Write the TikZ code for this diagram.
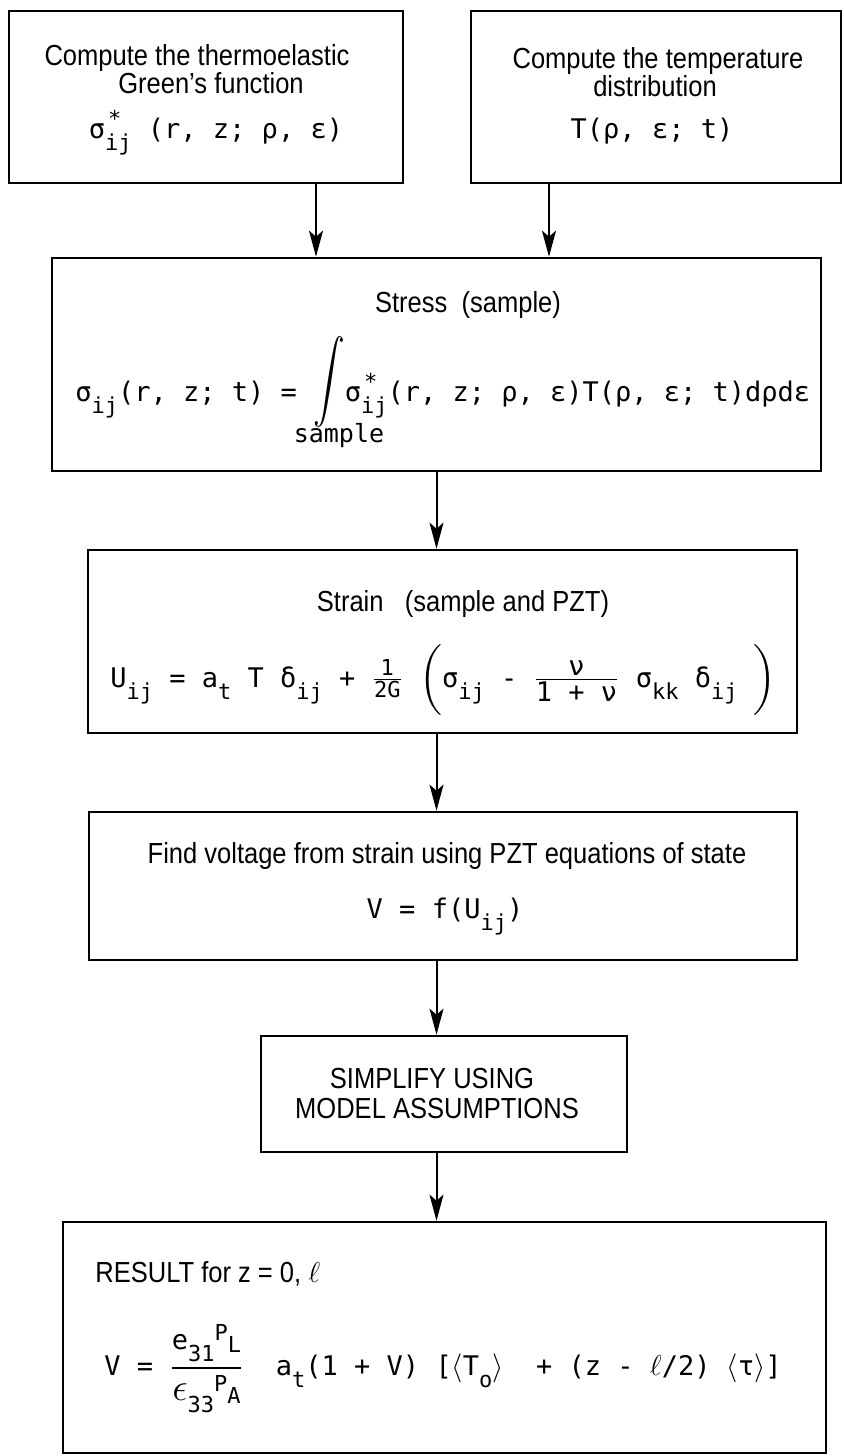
\documentclass[tikz,border=0pt]{standalone}
\usepackage{fontspec}
\usepackage{graphicx}
\usepackage{amsmath}
\setmainfont{Liberation Sans}[FakeStretch=0.88]
\newfontfamily\eqf{DejaVu Sans Mono}
\usetikzlibrary{arrows.meta}
% small indices in the formula font
\newcommand\subf{\eqf\fontsize{11}{12}\selectfont}
\newcommand\lo[1]{\raisebox{-6pt}{\subf #1}}
\newcommand\hi[1]{\raisebox{4.5pt}{\subf #1}}
\newcommand\hilo[2]{\makebox[0pt][l]{\hspace{1.5pt}\raisebox{6pt}{\subf #1}}\raisebox{-6pt}{\subf #2}}
\newcommand\bigint{\raisebox{4.5pt}{\scalebox{1.1}[1.42]{$\displaystyle\int$}}}
\newcommand\bigparen[1]{\raisebox{0.5pt}{\scalebox{1}[0.82]{$\Bigg#1$}}}

\begin{document}
\begin{tikzpicture}[x=0.5pt,y=-0.5pt,
  box/.style={draw,line width=1.3pt,inner sep=0pt},
  txt/.style={inner sep=0pt,font=\fontsize{14.5}{16}\selectfont},
  eq/.style={inner sep=0pt,font=\eqf\fontsize{13.5}{16}\selectfont},
  flow/.style={line width=1pt,-{Stealth[length=13pt,width=7pt,inset=3pt]}}]
\useasboundingbox (0,0) rectangle (844,1456);
% top row
\node[box,minimum width=197pt,minimum height=86pt] (green) at (206,97) {};
\node[txt,anchor=base] (green1) at (197,65) {Compute the thermoelastic};
\node[txt,anchor=base] (green2) at (211,93) {Green's function};
\node[eq,anchor=base] (greeneq) at (216,138) {σ\hilo{*}{ij} (r, z; ρ, ε)};
\node[box,minimum width=185pt,minimum height=86pt] (temp) at (656,97) {};
\node[txt,anchor=base] (temp1) at (658,68) {Compute the temperature};
\node[txt,anchor=base] (temp2) at (655,96) {distribution};
\node[eq,anchor=base] (tempeq) at (652,138) {T(ρ, ε; t)};
% stress
\node[box,minimum width=384.5pt,minimum height=106.5pt] (stress) at (436.5,364.5) {};
\node[txt,anchor=base] (stress1) at (468,312) {Stress\ \ (sample)};
\node[eq,anchor=base west] (stresseq) at (75,401) {σ\lo{ij}(r, z; t) = \bigint σ\hilo{*}{ij}(r, z; ρ, ε)T(ρ, ε; t)dρdε};
\node[eq,font=\eqf\fontsize{12.5}{14}\selectfont] (sample) at (339,436) {sample};
% strain
\node[box,minimum width=354.5pt,minimum height=91.5pt] (strain) at (442.5,641.5) {};
\node[txt,anchor=base] (strain1) at (463,611) {Strain\ \ \ (sample and PZT)};
\node[eq,anchor=base west] (straineq) at (110,687) {U\lo{ij} = a\lo{t} T δ\lo{ij} + $\genfrac{}{}{0.6pt}{1}{\hbox{\subf 1}}{\hbox{\subf 2G}}$ \bigparen(σ\lo{ij} - $\frac{\hbox{ν}}{\hbox{1 + ν}}$ σ\lo{kk} δ\lo{ij}\ \bigparen)};
% voltage
\node[box,minimum width=354pt,minimum height=74pt] (voltage) at (443,886) {};
\node[txt,anchor=base] (voltage1) at (447,863) {Find voltage from strain using PZT equations of state};
\node[eq,anchor=base] (voltageeq) at (445,918) {V = f(U\lo{ij})};
% simplify
\node[box,minimum width=183pt,minimum height=58pt] (simplify) at (444,1094) {};
\node[txt,anchor=base] (simplify1) at (432,1088) {SIMPLIFY USING};
\node[txt,anchor=base] (simplify2) at (437,1118) {MODEL ASSUMPTIONS};
% result
\node[box,minimum width=381.5pt,minimum height=115.5pt] (result) at (444.5,1337.5) {};
\node[txt,anchor=base west] (result1) at (95,1282) {RESULT for z = 0, $\ell$};
\node[eq,anchor=base west] (resulteq) at (104,1375) {V = $\genfrac{}{}{0.9pt}{0}{\hbox{e\lo{31}\hi{P\lo{L}}}}{\hbox{\rule{0pt}{13pt}\scalebox{1.35}{$\epsilon$}\lo{33}\hi{P\lo{A}}}}$\ \ a\lo{t}(1 + V) [$\langle$T\lo{o}$\rangle$\ \ + (z - $\ell$/2) $\langle$τ$\rangle$]};
% arrows
\draw[flow] ([xshift=55pt]green.south) -- ([xshift=55pt]green.south |- stress.north);
\draw[flow] ([xshift=-53.5pt]temp.south) -- ([xshift=-53.5pt]temp.south |- stress.north);
\draw[flow] (stress.south) -- (stress.south |- strain.north);
\draw[flow] (strain.south -| stress.south) -- (stress.south |- voltage.north);
\draw[flow] (voltage.south -| stress.south) -- (stress.south |- simplify.north);
\draw[flow] (simplify.south -| stress.south) -- (stress.south |- result.north);
\end{tikzpicture}
\end{document}
